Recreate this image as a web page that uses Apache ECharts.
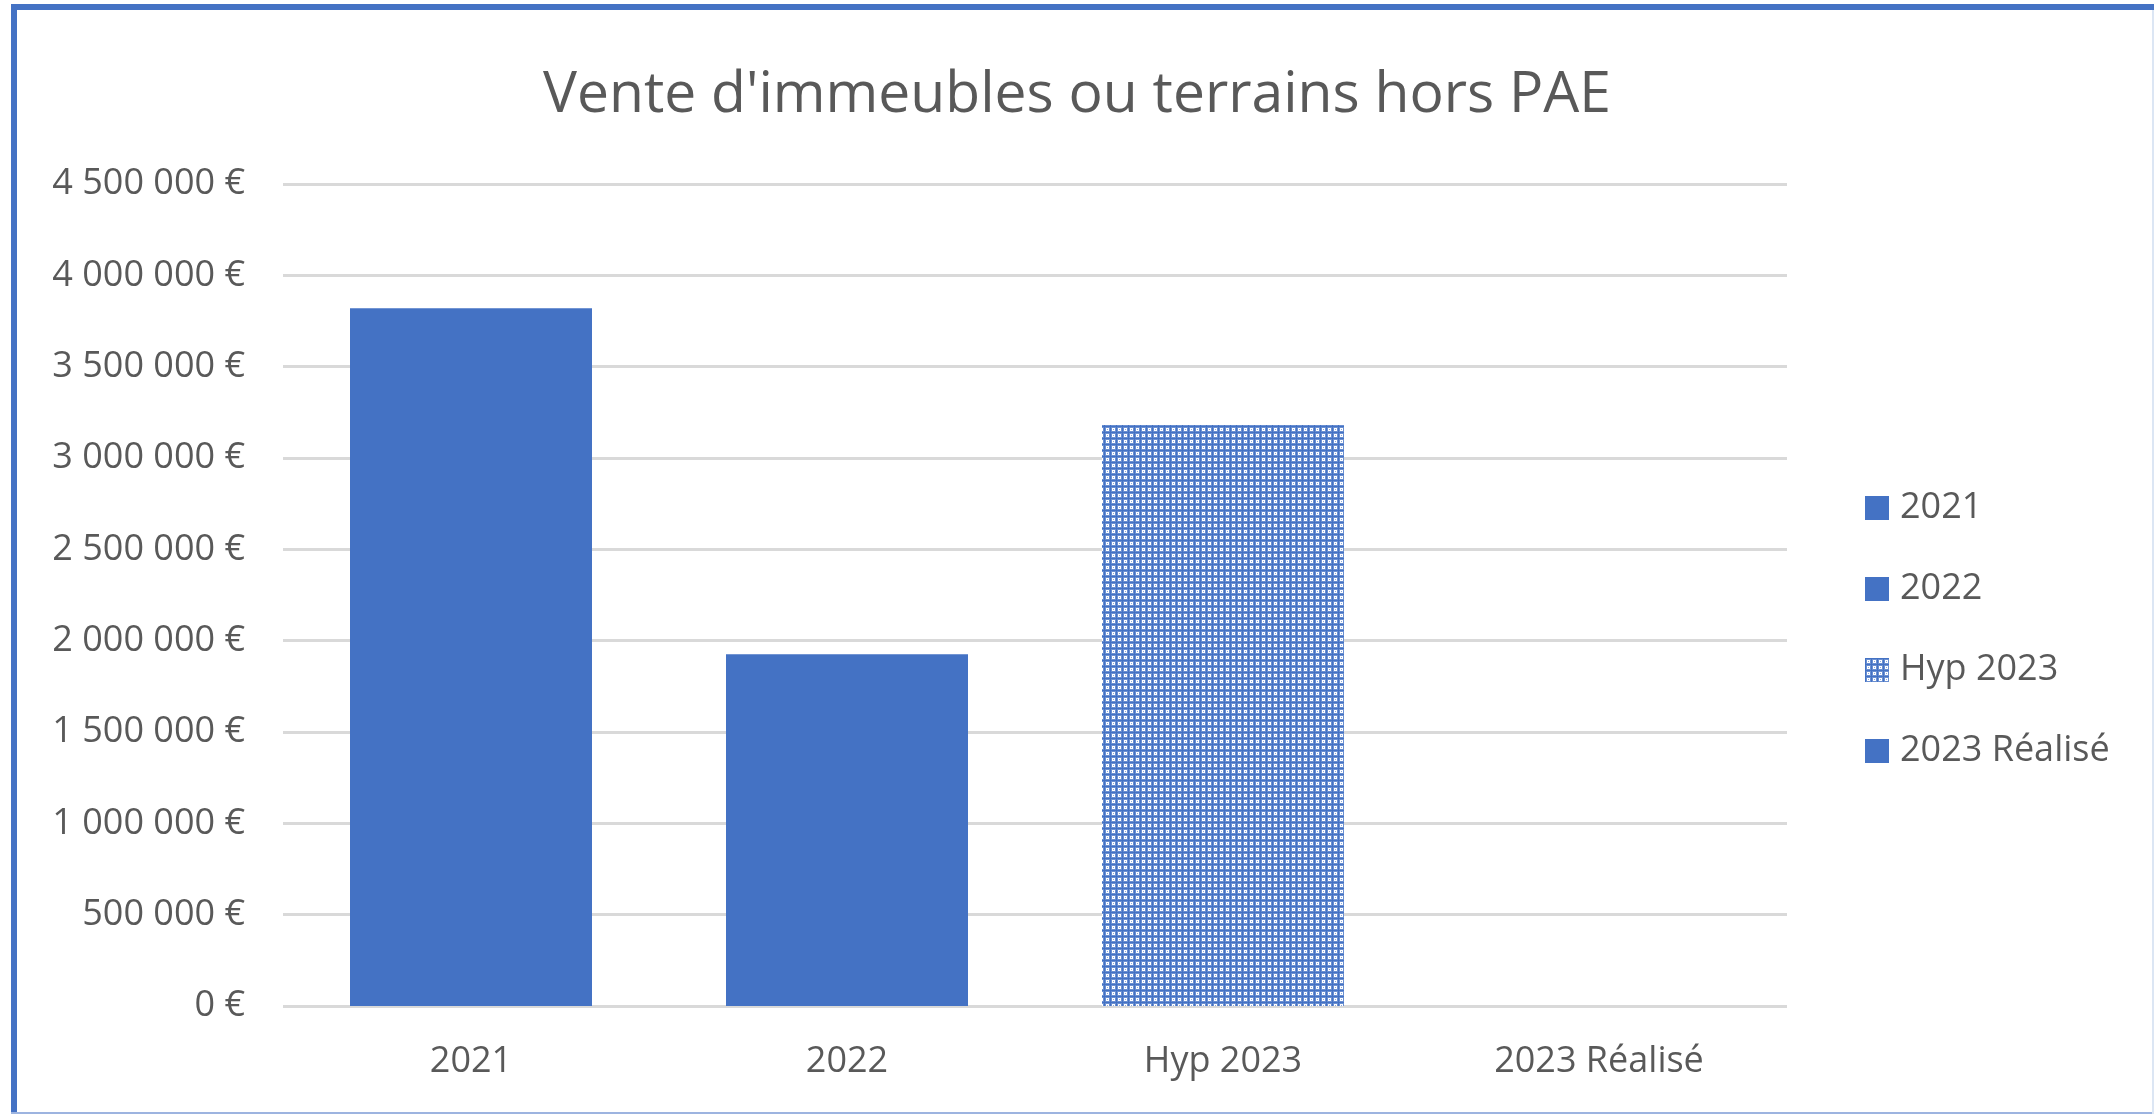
<!DOCTYPE html>
<html>
<head>
<meta charset="utf-8">
<script src="https://cdn.jsdelivr.net/npm/echarts@6/dist/echarts.min.js"></script>
<style>
  html, body { margin: 0; padding: 0; background: #fff; }
  #chart { width: 2154px; height: 1114px; }
</style>
</head>
<body>
<div id="chart"></div>
<script>
const title = "Vente d'immeubles ou terrains hors PAE"
const categories = ['2021', '2022', 'Hyp 2023', '2023 Réalisé']
const values = [3820000, 1925000, 3180000, 0]
const patterned = [false, false, true, false]
const yTicks = { min: 0, max: 4500000, interval: 500000 }

const blue = '#4472C4'
const grey = '#595959'
const font = 'Open Sans'

// little tile for the "Hyp" dotted fill
function makePattern() {
  const c = document.createElement('canvas')
  c.width = 6
  c.height = 6
  const ctx = c.getContext('2d')
  ctx.fillStyle = '#6a8fd1'
  ctx.fillRect(0, 0, 6, 6)
  ctx.fillStyle = blue
  ctx.fillRect(0, 0, 6, 1)
  ctx.fillRect(0, 0, 1, 6)
  ctx.fillStyle = '#ffffff'
  ctx.fillRect(2, 2, 3, 3)
  ctx.fillStyle = '#8aa8de'
  ctx.fillRect(3, 3, 1, 1)
  return c
}

function euro(v) {
  return String(v).replace(/\B(?=(\d{3})+(?!\d))/g, ' ') + ' €'
}

const chart = echarts.init(document.getElementById('chart'))
const pattern = { image: makePattern(), repeat: 'repeat' }

const series = categories.map((name, i) => {
  const data = categories.map((c, j) => (j === i ? values[i] : '-'))
  return {
    name,
    type: 'bar',
    stack: 'one',
    barWidth: 242,
    itemStyle: { color: patterned[i] ? pattern : blue },
    data,
  }
})

const option = {
  animation: false,
  backgroundColor: '#fff',
  title: {
    text: title,
    left: 'center',
    top: 62,
    textStyle: { fontFamily: font, fontSize: 57, fontWeight: 'normal', color: grey },
  },
  legend: {
    orient: 'vertical',
    left: 1860,
    top: 485,
    icon: 'rect',
    itemWidth: 24,
    itemHeight: 24,
    itemGap: 45,
    data: categories.map((name, i) => ({
      name,
      itemStyle: { color: patterned[i] ? pattern : blue },
    })),
    textStyle: { fontFamily: font, fontSize: 36, color: grey, lineHeight: 36, padding: [0, 0, 0, 6] },
  },
  grid: { left: 283, right: 367, top: 184, bottom: 108 },
  xAxis: {
    type: 'category',
    data: categories,
    axisLine: { show: false },
    axisTick: { show: false },
    axisLabel: { fontFamily: font, fontSize: 36, color: grey, margin: 38 },
  },
  yAxis: {
    type: 'value',
    min: yTicks.min,
    max: yTicks.max,
    interval: yTicks.interval,
    axisLabel: { fontFamily: font, fontSize: 36, color: grey, margin: 38, formatter: euro },
    splitLine: { lineStyle: { color: '#d9d9d9', width: 3 } },
  },
  graphic: [
    { type: 'rect', shape: { x: 11, y: 4, width: 2143, height: 6 }, style: { fill: blue } },
    { type: 'rect', shape: { x: 11, y: 4, width: 6, height: 1110 }, style: { fill: blue } },
    { type: 'rect', shape: { x: 11, y: 1112, width: 2143, height: 2 }, style: { fill: '#9db4e0' } },
    { type: 'rect', shape: { x: 2152, y: 10, width: 2, height: 1104 }, style: { fill: '#dce6f4' } },
  ],
  series,
}
chart.setOption(option)
</script>
</body>
</html>
